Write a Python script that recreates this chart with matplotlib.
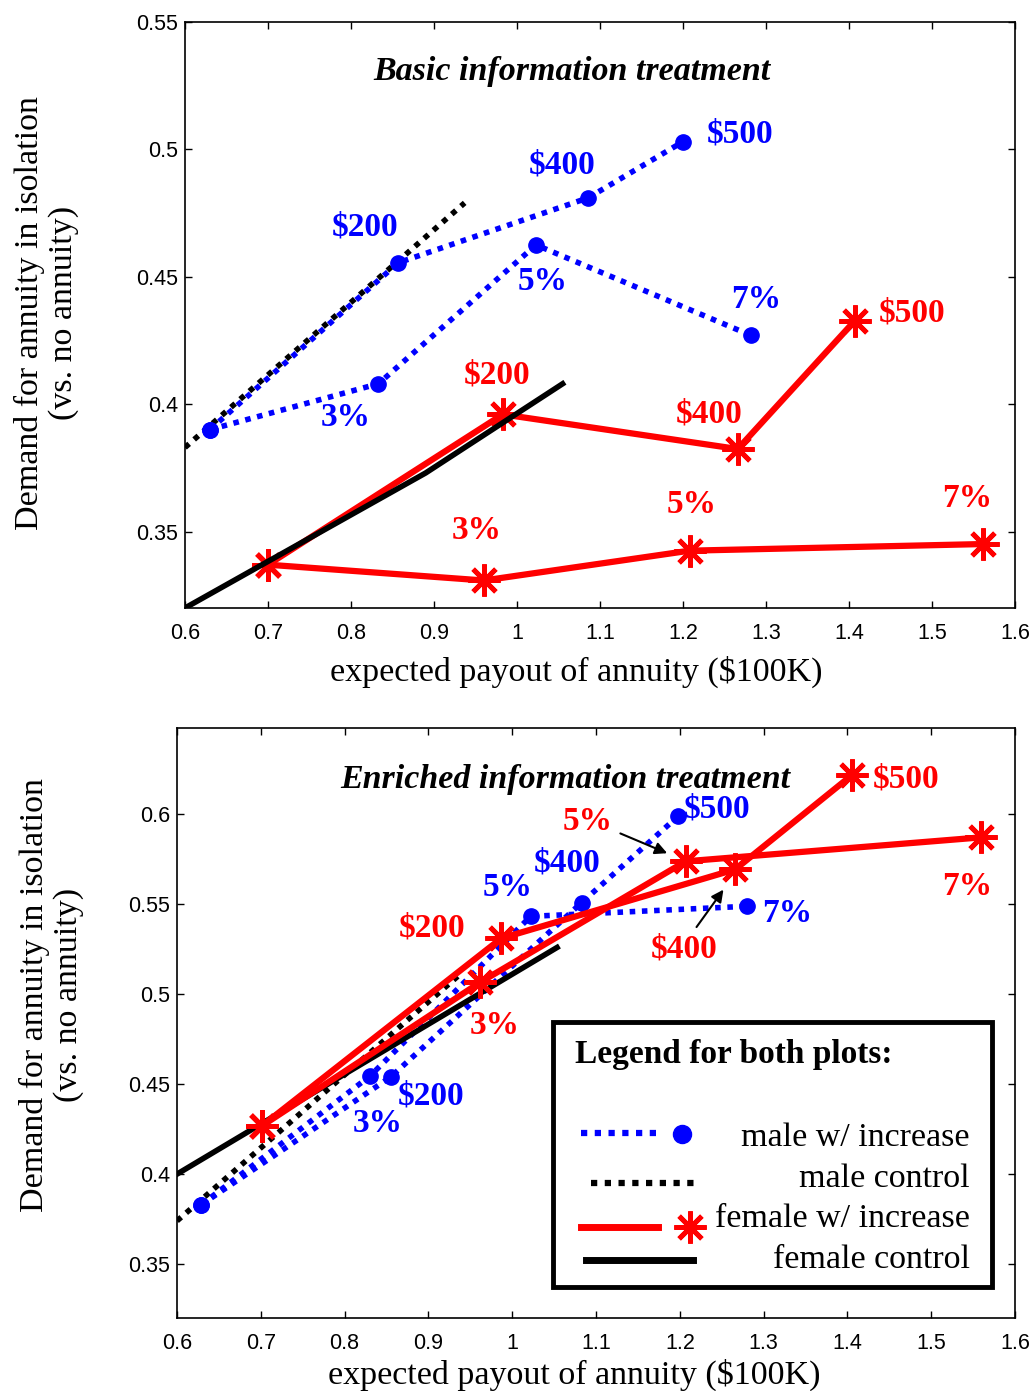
import matplotlib
matplotlib.use("Agg")
from matplotlib import pyplot as plt
from matplotlib.patches import Rectangle
from matplotlib.ticker import FormatStrFormatter
import numpy as np

plt.rcParams['font.family'] = 'Liberation Sans'
SERIF = 'Liberation Serif'

#Basic information treatment (top panel)
basic_male_dollar_x = [0.630, 0.857, 1.086, 1.200]
basic_male_dollar_y = [0.390, 0.4555, 0.481, 0.503]
basic_male_pct_x = [0.630, 0.833, 1.023, 1.282]
basic_male_pct_y = [0.390, 0.408, 0.4625, 0.427]
basic_male_ctrl_x = [0.600, 0.937]
basic_male_ctrl_y = [0.383, 0.479]
basic_fem_dollar_x = [0.700, 0.983, 1.266, 1.407]
basic_fem_dollar_y = [0.337, 0.396, 0.3824, 0.4327]
basic_fem_pct_x = [0.700, 0.960, 1.208, 1.561]
basic_fem_pct_y = [0.337, 0.3308, 0.3425, 0.3451]
basic_fem_ctrl_x = [0.600, 0.890, 1.055]
basic_fem_ctrl_y = [0.320, 0.373, 0.408]

#Enriched information treatment (bottom panel)
rich_male_dollar_x = [0.629, 0.855, 1.083, 1.198]
rich_male_dollar_y = [0.383, 0.454, 0.551, 0.599]
rich_male_pct_x = [0.629, 0.830, 1.022, 1.280]
rich_male_pct_y = [0.383, 0.4544, 0.5433, 0.5489]
rich_male_ctrl_x = [0.600, 0.940]
rich_male_ctrl_y = [0.374, 0.512]
rich_fem_dollar_x = [0.701, 0.987, 1.266, 1.405]
rich_fem_dollar_y = [0.4267, 0.5311, 0.5694, 0.6217]
rich_fem_pct_x = [0.701, 0.962, 1.207, 1.559]
rich_fem_pct_y = [0.4267, 0.5067, 0.5739, 0.5872]
rich_fem_ctrl_x = [0.600, 1.0535]
rich_fem_ctrl_y = [0.400, 0.526]

#Point labels: text, x, y
basic_blue_labels = [("$200", 0.817, 0.4696), ("$400", 1.054, 0.4939), ("$500", 1.269, 0.5061),
                     ("3%", 0.794, 0.3947), ("5%", 1.031, 0.4480), ("7%", 1.288, 0.4410)]
basic_red_labels = [("$200", 0.976, 0.4116), ("$400", 1.231, 0.3963), ("$500", 1.476, 0.4359),
                    ("3%", 0.952, 0.3504), ("5%", 1.211, 0.3606), ("7%", 1.542, 0.3629)]
rich_blue_labels = [("$500", 1.244, 0.6028), ("$400", 1.065, 0.5728), ("5%", 0.994, 0.5595),
                    ("7%", 1.328, 0.5450), ("$200", 0.903, 0.4433), ("3%", 0.839, 0.4283)]
rich_red_labels = [("$500", 1.470, 0.6195), ("7%", 1.543, 0.5600), ("$200", 0.904, 0.5367),
                   ("3%", 0.979, 0.4828)]
#arrowed labels: text, text xy, arrow tail xy, arrow head xy
rich_red_arrows = [("5%", (1.090, 0.5961), (1.126, 0.590), (1.188, 0.5778)),
                   ("$400", (1.205, 0.5250), (1.218, 0.5361), (1.254, 0.5594))]

x_ticks = np.round(np.arange(0.6, 1.61, 0.1), 2)

DOT = (0, (1, 1.2))
male_kw = dict(color="blue", linestyle=DOT, linewidth=4, dash_capstyle="butt",
               marker="o", markersize=11, zorder=3)
ctrl_dot_kw = dict(color="black", linestyle=DOT, linewidth=4, dash_capstyle="butt", zorder=2)
fem_kw = dict(color="red", linewidth=4.5, marker=(8, 2, 0), markersize=23,
              markeredgewidth=3.5, zorder=4)
ctrl_kw = dict(color="black", linewidth=4, zorder=4)
lab_kw = dict(fontsize=24, fontweight="bold", family=SERIF, ha="center", va="center")


def style_axes(ax, ylim, yticks, xlab_pos, ylab_pos):
    ax.set_xlim(0.6, 1.6)
    ax.set_ylim(*ylim)
    ax.set_xticks(x_ticks)
    ax.set_yticks(yticks)
    ax.xaxis.set_major_formatter(FormatStrFormatter("%g"))
    ax.yaxis.set_major_formatter(FormatStrFormatter("%g"))
    ax.tick_params(direction="in", top=True, right=True, length=5, width=1,
                   labelsize=15.5, pad=5)
    ax.tick_params(axis="x", pad=11)
    for s in ax.spines.values():
        s.set_linewidth(1.2)
    ax.set_xlabel("expected payout of annuity ($100K)", family=SERIF, fontsize=24.5)
    ax.xaxis.set_label_coords(*xlab_pos)
    ax.xaxis.label.set_va("center")
    ax.set_ylabel("Demand for annuity in isolation\n(vs. no annuity)", family=SERIF,
                  fontsize=24.5, linespacing=1.15)
    ax.yaxis.set_label_coords(*ylab_pos)
    ax.yaxis.label.set_va("center")


fig = plt.figure(figsize=(10.31, 13.91), dpi=100)

#Top panel
ax1 = fig.add_axes([0.1794, 0.5629, 0.805, 0.4213])
ax1.plot(basic_male_ctrl_x, basic_male_ctrl_y, **ctrl_dot_kw)
ax1.plot(basic_male_dollar_x, basic_male_dollar_y, **male_kw)
ax1.plot(basic_male_pct_x, basic_male_pct_y, **male_kw)
ax1.plot(basic_fem_dollar_x, basic_fem_dollar_y, **fem_kw)
ax1.plot(basic_fem_pct_x, basic_fem_pct_y, **fem_kw)
ax1.plot(basic_fem_ctrl_x, basic_fem_ctrl_y, **ctrl_kw)
for t, x, y in basic_blue_labels:
    ax1.text(x, y, t, color="blue", **lab_kw)
for t, x, y in basic_red_labels:
    ax1.text(x, y, t, color="red", **lab_kw)
ax1.text(1.066, 0.5305, "Basic information treatment", family=SERIF, fontsize=24.5,
         fontweight="bold", style="italic", ha="center", va="center")
style_axes(ax1, (0.32, 0.55), [0.35, 0.4, 0.45, 0.5, 0.55], (0.472, -0.109), (-0.167, 0.503))

#Bottom panel
ax2 = fig.add_axes([0.1717, 0.0525, 0.8128, 0.4241])
ax2.plot(rich_male_ctrl_x, rich_male_ctrl_y, **ctrl_dot_kw)
ax2.plot(rich_male_dollar_x, rich_male_dollar_y, **male_kw)
ax2.plot(rich_male_pct_x, rich_male_pct_y, **male_kw)
ax2.plot(rich_fem_ctrl_x, rich_fem_ctrl_y, **ctrl_kw)
ax2.plot(rich_fem_dollar_x, rich_fem_dollar_y, **fem_kw)
ax2.plot(rich_fem_pct_x, rich_fem_pct_y, **fem_kw)
for t, x, y in rich_blue_labels:
    ax2.text(x, y, t, color="blue", **lab_kw)
for t, x, y in rich_red_labels:
    ax2.text(x, y, t, color="red", **lab_kw)
for t, txy, tail, head in rich_red_arrows:
    ax2.text(txy[0], txy[1], t, color="red", **lab_kw)
    ax2.annotate("", xy=head, xytext=tail,
                 arrowprops=dict(arrowstyle="-|>", color="black", lw=1.5, mutation_scale=18))
ax2.text(1.063, 0.6196, "Enriched information treatment", family=SERIF, fontsize=24.5,
         fontweight="bold", style="italic", ha="center", va="center")
style_axes(ax2, (0.32, 0.648), [0.35, 0.4, 0.45, 0.5, 0.55, 0.6], (0.474, -0.0966),
           (-0.150, 0.547))

#Hand-made legend box in the bottom panel
T = ax2.transAxes
ax2.add_patch(Rectangle((0.4487, 0.0525), 0.5239, 0.4492, transform=T, fill=False,
                        edgecolor="black", linewidth=3.5, zorder=6))
ax2.add_patch(Rectangle((0.4487, 0.0525), 0.5239, 0.4492, transform=T, facecolor="white",
                        edgecolor="none", zorder=5))
ax2.text(0.475, 0.4465, "Legend for both plots:", transform=T, family=SERIF, fontsize=24,
         fontweight="bold", ha="left", va="center", zorder=7)
ax2.plot([0.482, 0.574], [0.3135, 0.3135], transform=T, color="blue", linestyle=DOT,
         linewidth=4.5, dash_capstyle="butt", zorder=7)
ax2.plot([0.603], [0.3118], transform=T, color="blue", marker="o", markersize=13, zorder=7)
ax2.plot([0.494, 0.621], [0.2288, 0.2288], transform=T, color="black", linestyle=DOT,
         linewidth=4.5, dash_capstyle="butt", zorder=7)
ax2.plot([0.482, 0.574], [0.1542, 0.1542], transform=T, color="red", linewidth=5, zorder=7)
ax2.plot([0.612], [0.1542], transform=T, color="red", marker=(8, 2, 0), markersize=23,
         markeredgewidth=3.5, zorder=7)
ax2.plot([0.488, 0.616], [0.0983, 0.0983], transform=T, color="black", linewidth=5, zorder=7)
legend_text = ["male w/ increase", "male control", "female w/ increase", "female control"]
legend_y = [0.306, 0.2355, 0.1677, 0.0985]
for t, y in zip(legend_text, legend_y):
    ax2.text(0.946, y, t, transform=T, family=SERIF, fontsize=24.5, ha="right", va="center",
             zorder=7)

plt.savefig("out.png", dpi=100)
